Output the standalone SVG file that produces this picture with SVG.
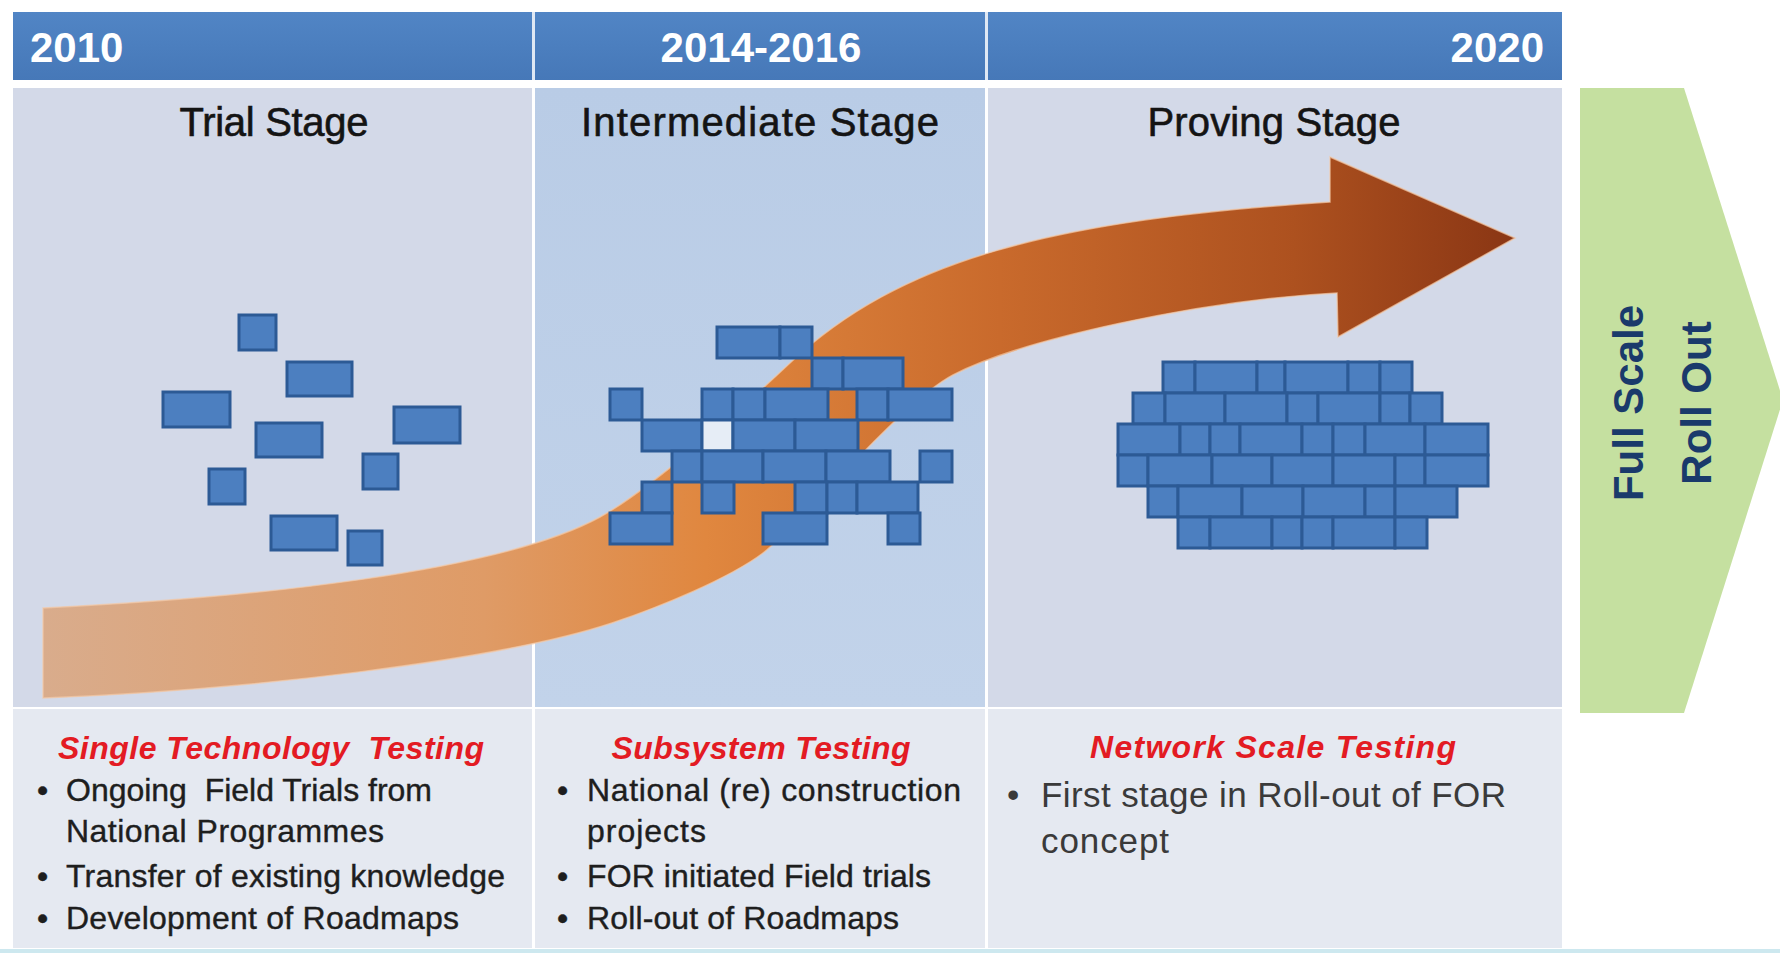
<svg xmlns="http://www.w3.org/2000/svg" width="1780" height="953" viewBox="0 0 1780 953">
<defs>
<linearGradient id="arrowGrad" gradientUnits="userSpaceOnUse" x1="43" y1="0" x2="1515" y2="0">
<stop offset="0" stop-color="#d9ac8c"/>
<stop offset="0.3" stop-color="#df9b66"/>
<stop offset="0.45" stop-color="#e0873f"/>
<stop offset="0.65" stop-color="#c96a2c"/>
<stop offset="0.85" stop-color="#ad511f"/>
<stop offset="1" stop-color="#8a3614"/>
</linearGradient>
<linearGradient id="hdrGrad" x1="0" y1="0" x2="0" y2="1">
<stop offset="0" stop-color="#5185c5"/>
<stop offset="1" stop-color="#4678b8"/>
</linearGradient>
<linearGradient id="col2Grad" x1="0" y1="0" x2="0" y2="1">
<stop offset="0" stop-color="#b9cce6"/>
<stop offset="1" stop-color="#c2d3ea"/>
</linearGradient>
</defs>
<style>
.yr{font-family:"Liberation Sans",Arial,sans-serif;font-weight:bold;font-size:42px;fill:#ffffff}
.st{font-family:"Liberation Sans",Arial,sans-serif;font-size:40px;fill:#141414;stroke:#141414;stroke-width:0.6;text-anchor:middle}
.rd{font-family:"Liberation Sans",Arial,sans-serif;font-size:32px;font-weight:bold;font-style:italic;fill:#e31b23;text-anchor:middle}
.bt{font-family:"Liberation Sans",Arial,sans-serif;font-size:32px;fill:#1e1e1e;stroke:#1e1e1e;stroke-width:0.4}
.bt3{font-family:"Liberation Sans",Arial,sans-serif;font-size:35px;fill:#3a3a3a}
.gt{font-family:"Liberation Sans",Arial,sans-serif;font-size:42px;font-weight:bold;fill:#1a3a6b;text-anchor:middle}
.b{fill:#4c7fc0;stroke:#2c5a95;stroke-width:3}
.bw{fill:#e6edf6;stroke:#2c5a95;stroke-width:3}
</style>
<rect x="0" y="0" width="1780" height="953" fill="#ffffff"/>

<g id="background">
<rect x="13" y="12" width="1549" height="68" fill="url(#hdrGrad)"/>
<rect x="532" y="12" width="3" height="68" fill="#dfe8f4"/>
<rect x="985" y="12" width="3" height="68" fill="#dfe8f4"/>
<rect x="13" y="88" width="519" height="619" fill="#d3d9e8"/>
<rect x="535" y="88" width="450" height="619" fill="url(#col2Grad)"/>
<rect x="988" y="88" width="574" height="619" fill="#d3d9e8"/>
<rect x="13" y="709" width="519" height="239" fill="#e5e9f1"/>
<rect x="535" y="709" width="450" height="239" fill="#e5e9f1"/>
<rect x="988" y="709" width="574" height="239" fill="#e5e9f1"/>
<rect x="0" y="949" width="1780" height="4" fill="#cde8ef"/>
</g>

<g id="header-years">
<text class="yr" x="30" y="62">2010</text>
<text class="yr" x="761" y="62" text-anchor="middle">2014-2016</text>
<text class="yr" x="1544" y="62" text-anchor="end">2020</text>
</g>

<g id="stage-titles">
<text class="st" x="274" y="136" textLength="189">Trial Stage</text>
<text class="st" x="760" y="136" textLength="358">Intermediate Stage</text>
<text class="st" x="1274" y="136" textLength="253">Proving Stage</text>
</g>

<g id="connectors">
<path d="M 43,608 C 250,598 500,572 600,517 C 650,489.5 740,410 790,363 C 900,260 1050,220 1330,202 L 1330,157 L 1515,238 L 1338,337 L 1337,293 C 1200,300 1020,340 953,375 C 900,403 800,525 763,553 C 730,578 660,607 612,623 C 500,660 250,690 43,698 Z" fill="url(#arrowGrad)" stroke="#f3c9a6" stroke-width="1.5" stroke-opacity="0.7"/>
</g>

<g id="bricks-trial">
<rect class="b" x="239" y="315" width="37" height="35"/>
<rect class="b" x="287" y="362" width="65" height="34"/>
<rect class="b" x="163" y="392" width="67" height="35"/>
<rect class="b" x="256" y="423" width="66" height="34"/>
<rect class="b" x="394" y="407" width="66" height="36"/>
<rect class="b" x="209" y="469" width="36" height="35"/>
<rect class="b" x="363" y="454" width="35" height="35"/>
<rect class="b" x="271" y="516" width="66" height="34"/>
<rect class="b" x="348" y="531" width="34" height="34"/>
</g>

<g id="bricks-intermediate">
<rect class="b" x="717" y="327" width="63" height="31"/>
<rect class="b" x="780" y="327" width="32" height="31"/>
<rect class="b" x="812" y="358" width="31" height="31"/>
<rect class="b" x="843" y="358" width="60" height="31"/>
<rect class="b" x="610" y="389" width="32" height="31"/>
<rect class="b" x="702" y="389" width="31" height="31"/>
<rect class="b" x="733" y="389" width="32" height="31"/>
<rect class="b" x="765" y="389" width="63" height="31"/>
<rect class="b" x="857" y="389" width="31" height="31"/>
<rect class="b" x="888" y="389" width="64" height="31"/>
<rect class="b" x="642" y="420" width="60" height="31"/>
<rect class="bw" x="702" y="420" width="31" height="31"/>
<rect class="b" x="733" y="420" width="62" height="31"/>
<rect class="b" x="795" y="420" width="63" height="31"/>
<rect class="b" x="672" y="451" width="30" height="31"/>
<rect class="b" x="702" y="451" width="61" height="31"/>
<rect class="b" x="763" y="451" width="63" height="31"/>
<rect class="b" x="826" y="451" width="64" height="31"/>
<rect class="b" x="920" y="451" width="32" height="31"/>
<rect class="b" x="642" y="482" width="30" height="31"/>
<rect class="b" x="702" y="482" width="32" height="31"/>
<rect class="b" x="795" y="482" width="32" height="31"/>
<rect class="b" x="827" y="482" width="30" height="31"/>
<rect class="b" x="857" y="482" width="61" height="31"/>
<rect class="b" x="610" y="513" width="62" height="31"/>
<rect class="b" x="763" y="513" width="64" height="31"/>
<rect class="b" x="888" y="513" width="32" height="31"/>
</g>

<g id="bricks-proving">
<rect class="b" x="1163" y="362" width="32" height="31"/>
<rect class="b" x="1195" y="362" width="62" height="31"/>
<rect class="b" x="1257" y="362" width="28" height="31"/>
<rect class="b" x="1285" y="362" width="63" height="31"/>
<rect class="b" x="1348" y="362" width="32" height="31"/>
<rect class="b" x="1380" y="362" width="32" height="31"/>
<rect class="b" x="1133" y="393" width="32" height="31"/>
<rect class="b" x="1165" y="393" width="60" height="31"/>
<rect class="b" x="1225" y="393" width="62" height="31"/>
<rect class="b" x="1287" y="393" width="31" height="31"/>
<rect class="b" x="1318" y="393" width="62" height="31"/>
<rect class="b" x="1380" y="393" width="30" height="31"/>
<rect class="b" x="1410" y="393" width="32" height="31"/>
<rect class="b" x="1118" y="424" width="62" height="31"/>
<rect class="b" x="1180" y="424" width="30" height="31"/>
<rect class="b" x="1210" y="424" width="30" height="31"/>
<rect class="b" x="1240" y="424" width="62" height="31"/>
<rect class="b" x="1302" y="424" width="31" height="31"/>
<rect class="b" x="1333" y="424" width="32" height="31"/>
<rect class="b" x="1365" y="424" width="60" height="31"/>
<rect class="b" x="1425" y="424" width="63" height="31"/>
<rect class="b" x="1118" y="455" width="30" height="31"/>
<rect class="b" x="1148" y="455" width="64" height="31"/>
<rect class="b" x="1212" y="455" width="60" height="31"/>
<rect class="b" x="1272" y="455" width="61" height="31"/>
<rect class="b" x="1333" y="455" width="62" height="31"/>
<rect class="b" x="1395" y="455" width="30" height="31"/>
<rect class="b" x="1425" y="455" width="63" height="31"/>
<rect class="b" x="1148" y="486" width="30" height="31"/>
<rect class="b" x="1178" y="486" width="64" height="31"/>
<rect class="b" x="1242" y="486" width="61" height="31"/>
<rect class="b" x="1303" y="486" width="62" height="31"/>
<rect class="b" x="1365" y="486" width="30" height="31"/>
<rect class="b" x="1395" y="486" width="62" height="31"/>
<rect class="b" x="1178" y="517" width="32" height="31"/>
<rect class="b" x="1210" y="517" width="62" height="31"/>
<rect class="b" x="1272" y="517" width="30" height="31"/>
<rect class="b" x="1302" y="517" width="31" height="31"/>
<rect class="b" x="1333" y="517" width="62" height="31"/>
<rect class="b" x="1395" y="517" width="32" height="31"/>
</g>

<g id="full-scale-rollout">
<polygon points="1580,88 1684,88 1783,400 1684,713 1580,713" fill="#c5e0a0"/>
<text class="gt" transform="translate(1643,403) rotate(-90)">Full Scale</text>
<text class="gt" transform="translate(1711,403) rotate(-90)">Roll Out</text>
</g>

<g id="trial-text">
<text class="rd" x="271" y="759" textLength="426" xml:space="preserve">Single Technology  Testing</text>
<text class="bt" x="37" y="801">•</text>
<text class="bt" x="66" y="801" textLength="366" xml:space="preserve">Ongoing  Field Trials from</text>
<text class="bt" x="66" y="842" textLength="318">National Programmes</text>
<text class="bt" x="37" y="887">•</text>
<text class="bt" x="66" y="887" textLength="439">Transfer of existing knowledge</text>
<text class="bt" x="37" y="929">•</text>
<text class="bt" x="66" y="929" textLength="393">Development of Roadmaps</text>
</g>

<g id="intermediate-text">
<text class="rd" x="761" y="759" textLength="299">Subsystem Testing</text>
<text class="bt" x="557" y="801">•</text>
<text class="bt" x="587" y="801" textLength="374">National (re) construction</text>
<text class="bt" x="587" y="842" textLength="119">projects</text>
<text class="bt" x="557" y="887">•</text>
<text class="bt" x="587" y="887" textLength="344">FOR initiated Field trials</text>
<text class="bt" x="557" y="929">•</text>
<text class="bt" x="587" y="929" textLength="312">Roll-out of Roadmaps</text>
</g>

<g id="proving-text">
<text class="rd" x="1273" y="758" textLength="366">Network Scale Testing</text>
<text class="bt3" x="1007" y="807">•</text>
<text class="bt3" x="1041" y="807" textLength="465">First stage in Roll-out of FOR</text>
<text class="bt3" x="1041" y="853" textLength="128">concept</text>
</g>
</svg>
